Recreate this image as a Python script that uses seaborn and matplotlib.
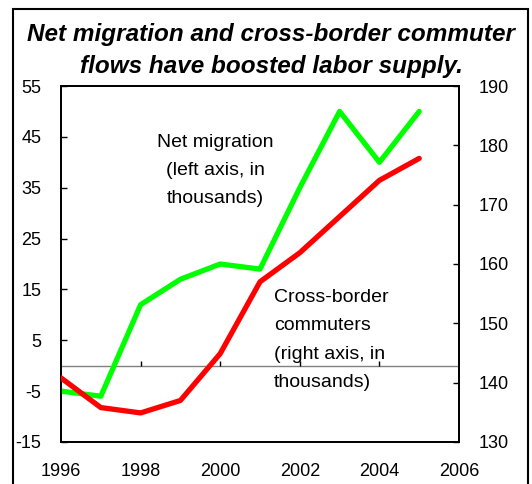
import pandas as pd
import matplotlib.pyplot as plt
import matplotlib.patches as mpatches
import seaborn as sns

# Data
years = [1996, 1997, 1998, 1999, 2000, 2001, 2002, 2003, 2004, 2005]
net_migration = [-5, -6, 12, 17, 20, 19, 35, 50, 40, 50]          # left axis, thousands
commuters = [140.8, 135.8, 134.9, 137.0, 144.9, 157.0, 161.9, 168.0, 174.1, 177.8]  # right axis, thousands

left_ticks = [-15, -5, 5, 15, 25, 35, 45, 55]
right_ticks = [130, 140, 150, 160, 170, 180, 190]
x_ticks = [1996, 1998, 2000, 2002, 2004, 2006]

df = pd.DataFrame({'year': years, 'net': net_migration, 'comm': commuters})

sns.set_style('white')
plt.rcParams['font.family'] = ['Liberation Sans', 'DejaVu Sans']
plt.rcParams['text.color'] = 'black'
plt.rcParams['axes.unicode_minus'] = False

fig = plt.figure(figsize=(5.32, 4.84), dpi=100)
ax = fig.add_axes([0.1147, 0.0868, 0.7481, 0.7355])
ax2 = ax.twinx()

sns.lineplot(x='year', y='net', data=df, ax=ax, color='#00FF00', linewidth=3.8, zorder=3)
sns.lineplot(x='year', y='comm', data=df, ax=ax2, color='#FF0000', linewidth=3.8, zorder=3)

ax.set_xlim(1996, 2006)
ax.set_ylim(-15, 55)
ax2.set_ylim(130, 190)
ax.set_xticks(x_ticks)
ax.set_yticks(left_ticks)
ax2.set_yticks(right_ticks)
ax.set_xlabel('')
ax.set_ylabel('')
ax2.set_ylabel('')

# zero line with small tick marks on it
ax.axhline(0, color='#808080', linewidth=1, zorder=1)
ax.vlines(x_ticks[1:-1], 0, 1.0, color='black', linewidth=1, zorder=1)

ax.tick_params(axis='x', length=0, labelsize=13, pad=15, colors='black')
ax.tick_params(axis='y', direction='in', length=4, width=1, labelsize=13, pad=14, colors='black')
ax2.tick_params(axis='y', direction='in', length=4, width=1, labelsize=13, pad=14, colors='black')

for a in (ax, ax2):
    for s in a.spines.values():
        s.set_color('black')
        s.set_linewidth(1.3)

ax.text(1999.87, 45.5, 'Net migration\n(left axis, in\nthousands)', ha='center', va='top',
        fontsize=14, linespacing=1.85, color='black')
ax.text(2001.35, 15.0, 'Cross-border\ncommuters\n(right axis, in\nthousands)', ha='left', va='top',
        fontsize=14, linespacing=1.85, color='black')

fig.text(0.51, 0.896, 'Net migration and cross-border commuter\nflows have boosted labor supply.',
         ha='center', va='center', fontsize=17.5, fontweight='bold', fontstyle='italic',
         linespacing=1.5, color='black')

# outer frame
frame = mpatches.Rectangle((13 / 532, -0.05), 515 / 532, 1.05 - 9 / 484, transform=fig.transFigure,
                           fill=False, edgecolor='black', linewidth=1.5)
fig.patches.append(frame)

fig.savefig('out.png', dpi=100)
